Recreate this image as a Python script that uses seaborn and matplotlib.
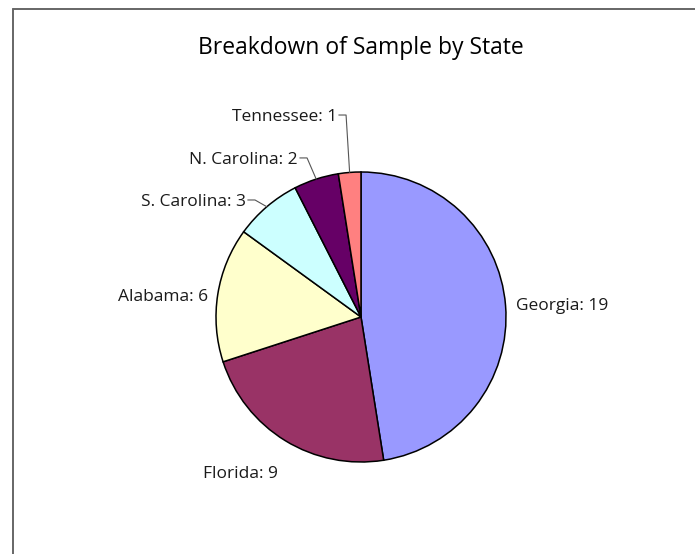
import matplotlib
matplotlib.use("Agg")
import matplotlib.pyplot as plt
from matplotlib.lines import Line2D
import seaborn as sns
import numpy as np

# Sample counts per state
states = ["Georgia", "Florida", "Alabama", "S. Carolina", "N. Carolina", "Tennessee"]
counts = [19, 9, 6, 3, 2, 1]
slice_colors = ["#9999FF", "#993366", "#FFFFCC", "#CCFFFF", "#660066", "#FF8080"]

sns.set_theme(style="white")
plt.rcParams["font.family"] = ["Open Sans", "DejaVu Sans"]

W, H = 695, 554
fig = plt.figure(figsize=(W / 100, H / 100), dpi=100)
fig.patch.set_facecolor("white")

# Pie axes: centre at (361, 317) px, radius 145 px
cx, cy, r = 361, 317, 145
ax = fig.add_axes([(cx - r) / W, (H - cy - r) / H, 2 * r / W, 2 * r / H])
wedges, _ = ax.pie(counts, colors=slice_colors, startangle=90, counterclock=False,
                   radius=1.0, wedgeprops=dict(edgecolor="black", linewidth=1.1))
ax.set_xlim(-1, 1)
ax.set_ylim(-1, 1)
ax.set_aspect("equal")
ax.axis("off")

labels = [f"{s}: {c}" for s, c in zip(states, counts)]

# Label placement (in pie-radius units); leader elbows for the small slices
total = sum(counts)
cum = np.cumsum([0] + counts)
mid_angles = [np.deg2rad(90 - 360 * (cum[i] + counts[i] / 2) / total) for i in range(len(counts))]

label_style = {
    "Georgia": dict(pos=(1.07, 0.075), ha="left"),
    "Florida": dict(pos=(-0.575, -1.08), ha="right"),
    "Alabama": dict(pos=(-1.055, 0.135), ha="right"),
    "S. Carolina": dict(elbow=(-0.731, 0.807), ha="right"),
    "N. Carolina": dict(elbow=(-0.372, 1.097), ha="right"),
    "Tennessee": dict(elbow=(-0.103, 1.393), ha="right"),
}

label_size = 12.5
for name, lab, ang in zip(states, labels, mid_angles):
    st = label_style[name]
    if "elbow" in st:
        ex, ey = st["elbow"]
        edge = (np.cos(ang), np.sin(ang))
        sx = ex - 0.05
        ax.add_line(Line2D([sx, ex, edge[0]], [ey, ey, edge[1]], color="#555555",
                           linewidth=0.8, clip_on=False))
        ax.text(sx - 0.012, ey - 0.015, lab, ha="right", va="center", fontsize=label_size,
                color="#1a1a1a", clip_on=False)
    else:
        x, y = st["pos"]
        ax.text(x, y, lab, ha=st["ha"], va="center", fontsize=label_size,
                color="#1a1a1a", clip_on=False)

fig.text(cx / W, 1 - 48 / H, "Breakdown of Sample by State", ha="center", va="center",
         fontsize=16.5, color="black")

# Chart-area border (left and top edges visible)
bx, by = 12.5 / W, 1 - 8.5 / H
fig.add_artist(Line2D([bx, bx], [0, by], transform=fig.transFigure, color="#666666", linewidth=1.4))
fig.add_artist(Line2D([bx, 1], [by, by], transform=fig.transFigure, color="#666666", linewidth=1.4))

fig.savefig("out.png", dpi=100)
